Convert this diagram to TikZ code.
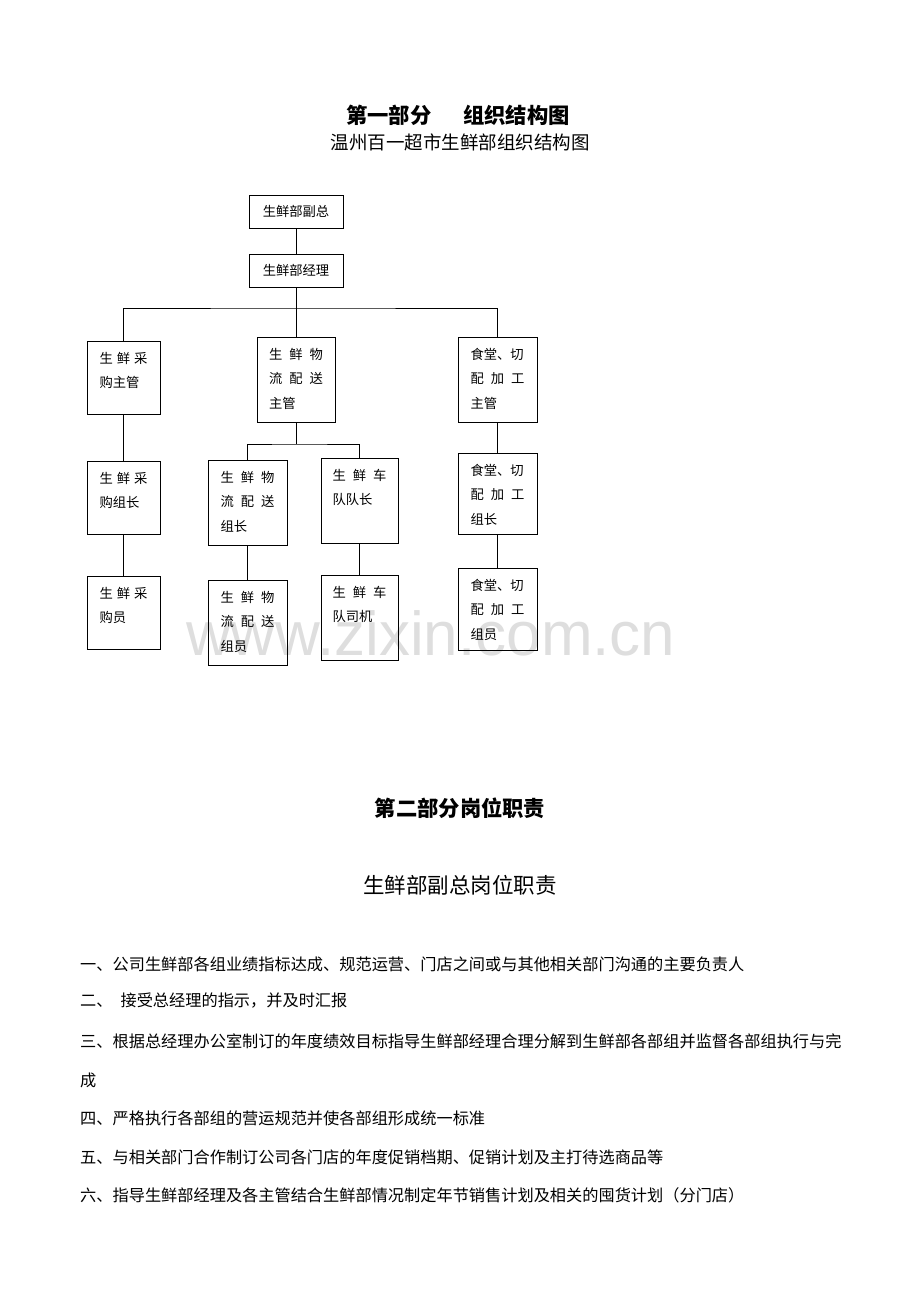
\documentclass[tikz,border=0pt]{standalone}
\usepackage{fontspec}
\setmainfont{Noto Sans CJK SC}
\newfontfamily\wmfont{Liberation Sans}
\usetikzlibrary{positioning}

\newcommand{\bxtxt}[3]{\parbox[t][#1][t]{#2}{\vspace*{11pt}\baselineskip=24.5pt #3}}

\begin{document}
\begin{tikzpicture}[x=1pt, y=-1pt,
		topbox/.style={draw, line width=1pt, inner sep=0pt, minimum width=94pt, minimum height=33pt,
			font=\fontsize{13.3}{16}\selectfont},
		box/.style={draw, line width=1pt, inner ysep=0pt, inner xsep=12pt,
			font=\fontsize{13.3}{16}\selectfont},
		conn/.style={line width=1pt},
		headbf/.style={inner sep=0pt, font=\fontsize{21.3}{25}\selectfont\bfseries},
		head/.style={inner sep=0pt, font=\fontsize{18.5}{22}\selectfont},
		body/.style={inner sep=0pt, anchor=west, font=\fontsize{16.2}{20}\selectfont},
		wm/.style={inner sep=0pt, anchor=base west, text=black!13, font=\wmfont\fontsize{62}{62}\selectfont}]
	\useasboundingbox (0,0) rectangle (920,1302);
	\node[wm] (mark) at (186,655) {www.zixin.com.cn};

	\node[headbf] (h1) at (458,115) {第一部分\hspace{32pt}组织结构图};
	\node[head] (h1sub) at (460,142) {温州百一超市生鲜部组织结构图};

	\node[topbox] (fz) at (296,211.5) {生鲜部副总};
	\node[topbox, below=25pt of fz] (jl) {生鲜部经理};

	\node[box, inner xsep=12.5pt] (cgzg) at (123.5,377.5) {\bxtxt{73pt}{48pt}{生\hfill 鲜\hfill 采\\购主管}};
	\node[box] (wlzg) at (296,379.5) {\bxtxt{85pt}{54pt}{生\hfill 鲜\hfill 物\\流\hfill 配\hfill 送\\主管}};
	\node[box, inner xsep=12.5pt] (stzg) at (497.5,379.5) {\bxtxt{85pt}{54pt}{食堂、切\\配\hfill 加\hfill 工\\主管}};

	\node[box, inner xsep=12.5pt, below=46pt of cgzg] (cgzz) {\bxtxt{73pt}{48pt}{生\hfill 鲜\hfill 采\\购组长}};
	\node[box, inner xsep=12.5pt, below=41pt of cgzz] (cgy) {\bxtxt{73pt}{48pt}{生\hfill 鲜\hfill 采\\购员}};

	\node[box, inner xsep=12.5pt] (wlzz) at (247.5,502.5) {\bxtxt{85pt}{54pt}{生\hfill 鲜\hfill 物\\流\hfill 配\hfill 送\\组长}};
	\node[box, inner xsep=11.5pt] (cdz) at (359.5,500.5) {\bxtxt{85pt}{54pt}{生\hfill 鲜\hfill 车\\队队长}};
	\node[box, inner xsep=12.5pt, below=34pt of wlzz] (wly) {\bxtxt{85pt}{54pt}{生\hfill 鲜\hfill 物\\流\hfill 配\hfill 送\\组员}};
	\node[box, inner xsep=11.5pt, below=31pt of cdz] (cdsj) {\bxtxt{85pt}{54pt}{生\hfill 鲜\hfill 车\\队司机}};

	\node[box, inner xsep=12.5pt, below=30pt of stzg] (stzz) {\bxtxt{81pt}{54pt}{食堂、切\\配\hfill 加\hfill 工\\组长}};
	\node[box, inner xsep=12.5pt, below=33pt of stzz] (sty) {\bxtxt{82pt}{54pt}{食堂、切\\配\hfill 加\hfill 工\\组员}};

	\coordinate (bus1) at (296,308);
	\coordinate (bus2) at (296,444);
	\draw[conn] (fz) -- (jl);
	\draw[conn] (jl) -- (bus1);
	\draw[conn] (cgzg.north) |- (bus1) -| (stzg.north);
	\draw[conn] (bus1) -- (wlzg);
	\draw[conn] (cgzg) -- (cgzz);
	\draw[conn] (cgzz) -- (cgy);
	\draw[conn] (wlzg) -- (bus2);
	\draw[conn] (wlzz.north) |- (bus2) -| (cdz.north);
	\draw[conn] (wlzz) -- (wly);
	\draw[conn] (cdz) -- (cdsj);
	\draw[conn] (stzg) -- (stzz);
	\draw[conn] (stzz) -- (sty);

	\node[headbf] (h2) at (460,808) {第二部分岗位职责};
	\node[inner sep=0pt, font=\fontsize{21.5}{25}\selectfont] (h3) at (460,885) {生鲜部副总岗位职责};

	\node[body] (l1) at (80,964) {一、公司生鲜部各组业绩指标达成、规范运营、门店之间或与其他相关部门沟通的主要负责人};
	\node[body] (l2) at (80,1001) {二、\hspace{8pt}接受总经理的指示，并及时汇报};
	\node[body] (l3) at (80,1041) {三、根据总经理办公室制订的年度绩效目标指导生鲜部经理合理分解到生鲜部各部组并监督各部组执行与完};
	\node[body] (l3b) at (80,1080) {成};
	\node[body] (l4) at (80,1118) {四、严格执行各部组的营运规范并使各部组形成统一标准};
	\node[body] (l5) at (80,1157) {五、与相关部门合作制订公司各门店的年度促销档期、促销计划及主打待选商品等};
	\node[body] (l6) at (80,1195) {六、指导生鲜部经理及各主管结合生鲜部情况制定年节销售计划及相关的囤货计划（分门店）};
\end{tikzpicture}
\end{document}
